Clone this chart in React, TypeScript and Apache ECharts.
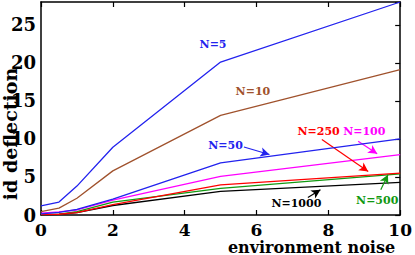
import React, { useEffect, useRef } from "react";
import * as echarts from "echarts";

const noise = [0, 0.5, 1, 2, 5, 10];
const n5 = [1.2, 1.7, 3.8, 8.9, 20.1, 28];
const n10 = [0.45, 0.9, 2.2, 5.8, 13.1, 19.1];
const n50 = [0.15, 0.35, 0.75, 2.1, 6.85, 10.0];
const n100 = [0.25, 0.4, 0.66, 1.95, 5.07, 7.95];
const n250 = [0.05, 0.1, 0.3, 1.35, 3.97, 5.5];
const n500 = [0.05, 0.12, 0.44, 1.7, 3.5, 5.4];
const n1000 = [0.03, 0.08, 0.3, 1.25, 3.1, 4.3];

const seriesNames = ["N=5", "N=10", "N=50", "N=100", "N=250", "N=500", "N=1000"];
const seriesValues = [n5, n10, n50, n100, n250, n500, n1000];
const seriesColors = ["#2222ee", "#a0522d", "#2222ee", "#ff00ff", "#ff0000", "#119911", "#000000"];

// label centers (data coords)
const labelX = [4.79, 5.9, 5.14, 9.0, 7.73, 9.36, 7.11];
const labelY = [22.4, 16.3, 9.14, 11.03, 11.03, 1.85, 1.46];
// arrows: [x1, y1, x2, y2] or null
const arrows: (number[] | null)[] = [
  null,
  null,
  [5.65, 8.94, 6.36, 7.95],
  [8.83, 9.71, 9.36, 8.04],
  [7.82, 9.93, 9.11, 5.73],
  [9.46, 3.31, 9.66, 5.3],
  [7.43, 2.29, 7.78, 3.31],
];

const yTickLabels = ["0", "5", "10", "15", "20", "25"];
const xTickLabels = ["0", "2", "4", "6", "8", "10"];

const FONT = "DejaVu Serif";

export default function App() {
  const ref = useRef<HTMLDivElement>(null);
  useEffect(() => {
    if (!ref.current) return;
    const chart = echarts.init(ref.current, null, { renderer: "svg" });
    const series: any[] = seriesNames.map((name, i) => {
      const arrow = arrows[i];
      return {
        name,
        type: "line",
        data: noise.map((x, j) => [x, seriesValues[i][j]]),
        showSymbol: false,
        symbol: "none",
        lineStyle: { color: seriesColors[i], width: 1.3 },
        itemStyle: { color: seriesColors[i] },
        z: 7 - i,
        markPoint: {
          symbol: "rect",
          symbolSize: 1,
          itemStyle: { color: "rgba(0,0,0,0)" },
          silent: true,
          label: {
            show: true,
            position: "inside",
            formatter: name,
            color: seriesColors[i],
            fontFamily: FONT,
            fontWeight: "bold",
            fontSize: 11,
          },
          data: [{ coord: [labelX[i], labelY[i]] }],
        },
        markLine: arrow
          ? {
              silent: true,
              symbol: ["none", "arrow"],
              symbolSize: [7, 9],
              label: { show: false },
              lineStyle: { color: seriesColors[i], width: 1.2, type: "solid" },
              data: [[{ coord: [arrow[0], arrow[1]] }, { coord: [arrow[2], arrow[3]] }]],
            }
          : undefined,
      };
    });
    const axisLabelStyle = {
      color: "#000",
      fontFamily: FONT,
      fontWeight: "bold",
      fontSize: 18,
    };
    chart.setOption({
      animation: false,
      textStyle: { fontFamily: FONT },
      grid: { left: 41, right: 11, top: 2, bottom: 40, show: false },
      xAxis: [
        {
          type: "value",
          min: 0,
          max: 10,
          interval: 2,
          position: "bottom",
          axisLine: { show: true, lineStyle: { color: "#000", width: 1.5 } },
          axisTick: { show: true, inside: true, length: 5, lineStyle: { color: "#000", width: 1.2 } },
          splitLine: { show: false },
          axisLabel: {
            ...axisLabelStyle,
            fontSize: 17,
            margin: 6,
            formatter: (v: number) => xTickLabels[Math.round(v / 2)] ?? "",
          },
        },
        {
          type: "value",
          min: 0,
          max: 10,
          interval: 2,
          position: "top",
          axisLine: { show: true, onZero: false, lineStyle: { color: "#000", width: 1.5 } },
          axisTick: { show: true, inside: true, length: 5, lineStyle: { color: "#000", width: 1.2 } },
          splitLine: { show: false },
          axisLabel: { show: false },
        },
      ],
      yAxis: [
        {
          type: "value",
          min: 0,
          max: 28,
          interval: 5,
          position: "left",
          axisLine: { show: true, lineStyle: { color: "#000", width: 1.5 } },
          axisTick: { show: false },
          splitLine: { show: false },
          axisLabel: {
            ...axisLabelStyle,
            margin: 5,
            showMaxLabel: false,
            formatter: (v: number) => (v % 5 === 0 ? yTickLabels[v / 5] ?? "" : ""),
          },
        },
        {
          type: "value",
          min: 0,
          max: 28,
          interval: 5,
          position: "right",
          axisLine: { show: true, onZero: false, lineStyle: { color: "#000", width: 1.5 } },
          axisTick: { show: true, inside: true, length: 5, lineStyle: { color: "#000", width: 1.2 } },
          splitLine: { show: false },
          axisLabel: { show: false },
        },
      ],
      graphic: [
        {
          type: "text",
          x: 10,
          y: 134,
          rotation: Math.PI / 2,
          style: {
            text: "id deflection",
            fill: "#000",
            font: "bold 19px " + FONT,
            textAlign: "center",
            textVerticalAlign: "middle",
          },
        },
        {
          type: "text",
          x: 311.5,
          y: 247.5,
          style: {
            text: "environment noise",
            fill: "#000",
            font: "bold 16px " + FONT,
            textAlign: "center",
            textVerticalAlign: "middle",
          },
        },
      ],
      series,
    });
    return () => chart.dispose();
  }, []);
  return (
    <div
      ref={ref}
      style={{ width: 415, height: 255, position: "absolute", left: 0, top: 0 }}
    />
  );
}
